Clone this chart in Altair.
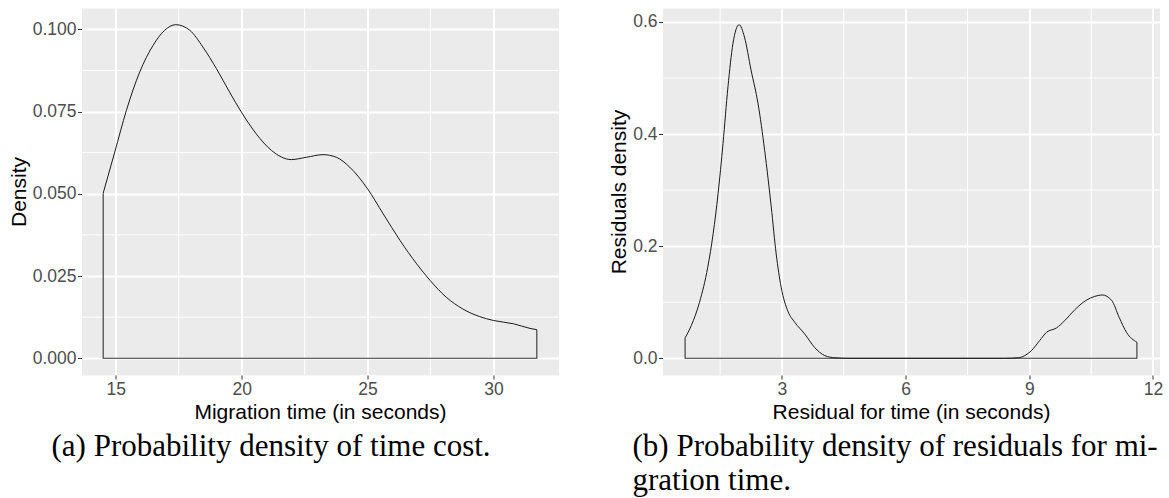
import altair as alt
import pandas as pd

# ---- data ----
time_x = [14.50, 14.96, 15.42, 15.95, 16.48, 16.94, 17.38, 17.94, 18.46, 19.00,
          19.52, 19.99, 20.58, 21.18, 21.97, 22.57, 23.23, 23.76, 24.29, 25.00,
          25.62, 26.29, 26.95, 27.49, 28.12, 28.78, 29.44, 30.00, 30.79, 31.45, 31.72]
time_d = [0.0502, 0.0627, 0.0753, 0.0870, 0.0951, 0.0997, 0.1014, 0.0997, 0.0946, 0.0880,
          0.0809, 0.0748, 0.0682, 0.0632, 0.0604, 0.0611, 0.0619, 0.0611, 0.0581, 0.0515,
          0.0439, 0.0358, 0.0287, 0.0236, 0.0186, 0.0150, 0.0127, 0.0115, 0.0105, 0.0091, 0.0087]

resid_x = [0.65, 0.80, 1.00, 1.20, 1.33, 1.45, 1.57, 1.69, 1.81, 1.96,
           2.09, 2.25, 2.42, 2.58, 2.74, 2.86, 2.98, 3.15, 3.31, 3.55,
           3.79, 4.04, 4.28, 4.60, 6.00, 8.40, 8.73, 8.89, 9.05, 9.25,
           9.42, 9.66, 9.86, 10.10, 10.31, 10.67, 10.77, 11.00, 11.18, 11.36, 11.61]
resid_d = [0.0364, 0.0584, 0.100, 0.1625, 0.222, 0.2935, 0.383, 0.484, 0.561, 0.595,
           0.573, 0.514, 0.454, 0.371, 0.270, 0.186, 0.127, 0.083, 0.0643, 0.0436,
           0.0196, 0.0048, 0.001, 0.0, 0.0, 0.0, 0.001, 0.0048, 0.0137, 0.0316,
           0.0465, 0.0542, 0.0673, 0.0864, 0.100, 0.112, 0.113, 0.103, 0.073, 0.046, 0.0286]

time_xticks = [15, 20, 25, 30]
time_yticks = [0, 0.025, 0.05, 0.075, 0.1]
time_xminor = [17.5, 22.5, 27.5]
time_yminor = [0.0125, 0.0375, 0.0625, 0.0875]

resid_xticks = [3, 6, 9, 12]
resid_yticks = [0, 0.2, 0.4, 0.6]
resid_xminor = [1.5, 4.5, 7.5, 10.5]
resid_yminor = [0.1, 0.3, 0.5]

caption_a = "(a) Probability density of time cost."
caption_b = ["(b) Probability density of residuals for mi-", "gration time."]


def expand(lo, hi, f=0.05):
    d = (hi - lo) * f
    return [lo - d, hi + d]


def panel(xs, ds, xt, yt, xm, ym, xtitle, ytitle, yfmt, caption, w, h):
    curve = pd.DataFrame({"x": xs, "d": ds})
    frame = pd.DataFrame({"x": [xs[0], xs[0], xs[-1], xs[-1]],
                          "d": [ds[0], 0, 0, ds[-1]],
                          "o": [0, 1, 2, 3]})
    xscale = alt.Scale(domain=expand(min(xs), max(xs)), nice=False, zero=False)
    yscale = alt.Scale(domain=expand(0, max(ds)), nice=False, zero=False)
    X = alt.X("x:Q", scale=xscale,
              axis=alt.Axis(values=xt, title=xtitle, format="d"))
    Y = alt.Y("d:Q", scale=yscale,
              axis=alt.Axis(values=yt, title=ytitle, format=yfmt))

    minor_x = alt.Chart(pd.DataFrame({"x": xm})).mark_rule(
        color="white", strokeWidth=1).encode(x=X)
    minor_y = alt.Chart(pd.DataFrame({"d": ym})).mark_rule(
        color="white", strokeWidth=1).encode(y=Y)
    edge = alt.Chart(frame).mark_line(color="#333333", strokeWidth=1.1).encode(
        x=X, y=Y, order="o:Q")
    line = alt.Chart(curve).mark_line(
        color="#1a1a1a", strokeWidth=1, interpolate="monotone").encode(x=X, y=Y)
    return alt.layer(minor_x, minor_y, edge, line).properties(
        width=w, height=h,
        title=alt.TitleParams(
            text=caption, orient="bottom", anchor="start", frame="group",
            dx=-30, offset=10, font="Liberation Serif", fontSize=31,
            fontWeight="normal", color="black", lineHeight=34, baseline="top"),
    )


left = panel(time_x, time_d, time_xticks, time_yticks, time_xminor, time_yminor,
             "Migration time (in seconds)", "Density", ".3f", caption_a, 477, 367)
right = panel(resid_x, resid_d, resid_xticks, resid_yticks, resid_xminor, resid_yminor,
              "Residual for time (in seconds)", "Residuals density", ".1f", caption_b, 497, 367)

chart = alt.hconcat(left, right, spacing=48).properties(
    padding={"left": 7.5, "top": 7, "right": 0, "bottom": 0},
    background="white",
).configure_view(
    fill="#EBEBEB", stroke="transparent"
).configure_axis(
    domain=False, grid=True, gridColor="white", gridWidth=2,
    tickColor="#333333", tickSize=4, tickWidth=1,
    labelFont="Liberation Sans", labelFontSize=17.5, labelColor="#4D4D4D", labelPadding=1.5,
    titleFont="Liberation Sans", titleFontSize=21, titleFontWeight="normal",
    titleColor="black", titlePadding=3,
)

chart.save("out.html", embed_options={"renderer": "svg", "actions": False})
